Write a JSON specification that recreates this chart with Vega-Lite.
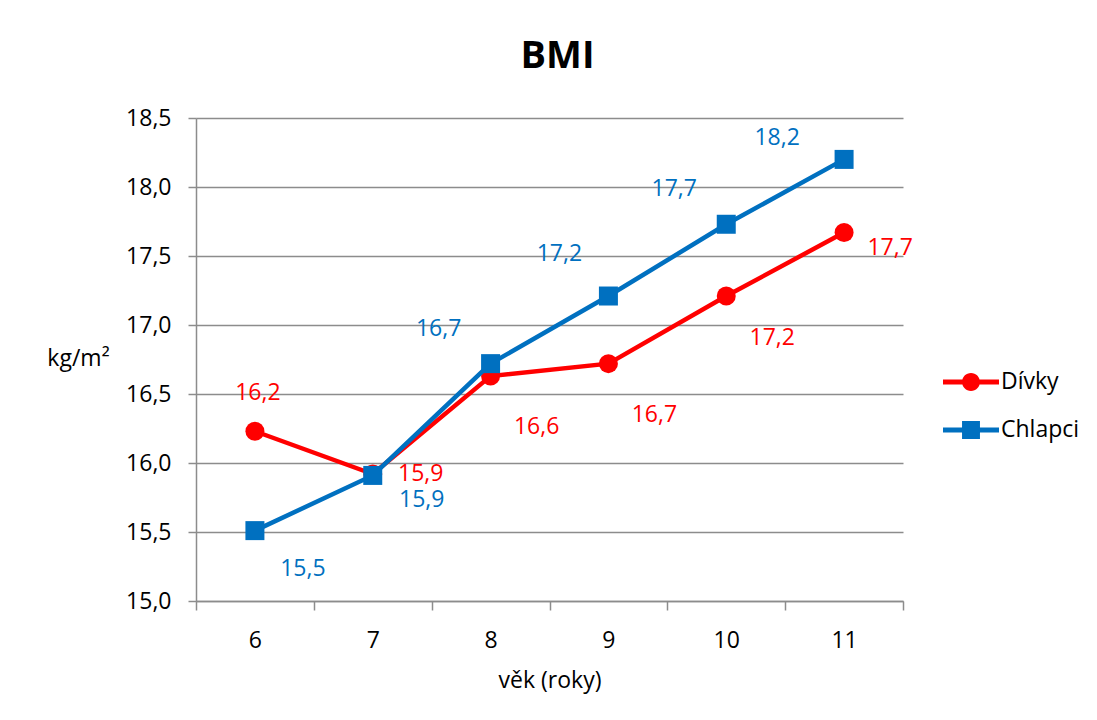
{
  "$schema": "https://vega.github.io/schema/vega-lite/v6.json",
  "width": 707,
  "height": 483,
  "autosize": {"type": "none"},
  "padding": {"left": 196, "top": 118, "right": 194, "bottom": 119},
  "background": "white",
  "title": {
    "text": "BMI",
    "frame": "group",
    "anchor": "middle",
    "dx": 8,
    "offset": 31,
    "fontSize": 38,
    "fontWeight": "bold",
    "font": "Open Sans",
    "color": "#000000"
  },
  "config": {
    "locale": {
      "number": {"decimal": ",", "thousands": " ", "grouping": [3], "currency": ["", " Kč"]}
    },
    "font": "Open Sans",
    "view": {"stroke": null},
    "axis": {
      "labelFont": "Open Sans",
      "labelFontSize": 23,
      "labelColor": "#000000",
      "titleFont": "Open Sans",
      "titleFontSize": 23,
      "titleFontWeight": "normal",
      "titleColor": "#000000",
      "domainColor": "#8C8C8C",
      "domainWidth": 1.5,
      "tickColor": "#8C8C8C",
      "tickWidth": 1.5,
      "gridColor": "#8C8C8C",
      "gridWidth": 1.4
    }
  },
  "data": {
    "values": [
      {"vek": 6, "pohlavi": "Dívky", "BMI": 16.23},
      {"vek": 7, "pohlavi": "Dívky", "BMI": 15.92},
      {"vek": 8, "pohlavi": "Dívky", "BMI": 16.63},
      {"vek": 9, "pohlavi": "Dívky", "BMI": 16.72},
      {"vek": 10, "pohlavi": "Dívky", "BMI": 17.21},
      {"vek": 11, "pohlavi": "Dívky", "BMI": 17.67},
      {"vek": 6, "pohlavi": "Chlapci", "BMI": 15.51},
      {"vek": 7, "pohlavi": "Chlapci", "BMI": 15.91},
      {"vek": 8, "pohlavi": "Chlapci", "BMI": 16.72},
      {"vek": 9, "pohlavi": "Chlapci", "BMI": 17.21},
      {"vek": 10, "pohlavi": "Chlapci", "BMI": 17.73},
      {"vek": 11, "pohlavi": "Chlapci", "BMI": 18.2}
    ]
  },
  "encoding": {
    "x": {
      "field": "vek",
      "type": "ordinal",
      "scale": {"type": "band", "paddingInner": 0, "paddingOuter": 0},
      "axis": {
        "title": "věk (roky)",
        "labelAngle": 0,
        "tickBand": "extent",
        "tickSize": 9,
        "labelPadding": 19,
        "titlePadding": 17,
        "grid": false
      }
    },
    "y": {
      "field": "BMI",
      "type": "quantitative",
      "scale": {"domain": [15, 18.5], "nice": false, "zero": false},
      "axis": {
        "values": [15, 15.5, 16, 16.5, 17, 17.5, 18, 18.5],
        "format": ".1f",
        "title": "kg/m²",
        "titleAngle": 0,
        "titleX": -118,
        "titleY": 240,
        "titleAlign": "center",
        "titleBaseline": "middle",
        "tickSize": 8,
        "labelPadding": 17,
        "grid": true
      }
    },
    "color": {
      "field": "pohlavi",
      "type": "nominal",
      "scale": {"domain": ["Dívky", "Chlapci"], "range": ["#FF0000", "#0070C0"]},
      "legend": {
        "orient": "none",
        "legendX": 747,
        "legendY": 250,
        "title": null,
        "labelFont": "Open Sans",
        "labelFontSize": 23,
        "labelColor": "#000000",
        "symbolSize": 784,
        "labelOffset": 30,
        "rowPadding": 22,
        "encoding": {
          "symbols": {
            "shape": {"value": {"expr": "datum.value === 'Dívky' ? 'M-1,-0.18H3V0.18H-1Z M1.64,0A0.64,0.64 0 1,1 0.36,0A0.64,0.64 0 1,1 1.64,0Z' : 'M-1,-0.18H3V0.18H-1Z M0.36,-0.64H1.64V0.64H0.36Z'"}},
            "fill": {"value": {"expr": "scale('color', datum.value)"}},
            "stroke": {"value": "transparent"},
            "strokeWidth": {"value": 0},
            "opacity": {"value": 1}
          }
        }
      }
    }
  },
  "layer": [
    {
      "transform": [{"filter": "datum.pohlavi === 'Dívky'"}],
      "mark": {"type": "line", "strokeWidth": 4.5}
    },
    {
      "transform": [{"filter": "datum.pohlavi === 'Dívky'"}],
      "mark": {"type": "point", "shape": "circle", "filled": true, "opacity": 1, "size": 361}
    },
    {
      "transform": [{"filter": "datum.pohlavi === 'Chlapci'"}],
      "mark": {"type": "line", "strokeWidth": 4.5}
    },
    {
      "transform": [{"filter": "datum.pohlavi === 'Chlapci'"}],
      "mark": {"type": "point", "shape": "square", "filled": true, "opacity": 1, "size": 361}
    },
    {
      "transform": [{"filter": "datum.pohlavi === 'Dívky' && datum.vek === 6"}],
      "mark": {"type": "text", "dx": 3, "dy": -38, "fontSize": 23},
      "encoding": {"text": {"field": "BMI", "type": "quantitative", "format": ".1f"}}
    },
    {
      "transform": [{"filter": "datum.pohlavi === 'Dívky' && datum.vek === 7"}],
      "mark": {"type": "text", "dx": 48, "dy": 0, "fontSize": 23},
      "encoding": {"text": {"field": "BMI", "type": "quantitative", "format": ".1f"}}
    },
    {
      "transform": [{"filter": "datum.pohlavi === 'Dívky' && (datum.vek === 8 || datum.vek === 9)"}],
      "mark": {"type": "text", "dx": 46, "dy": 51, "fontSize": 23},
      "encoding": {"text": {"field": "BMI", "type": "quantitative", "format": ".1f"}}
    },
    {
      "transform": [{"filter": "datum.pohlavi === 'Dívky' && datum.vek === 10"}],
      "mark": {"type": "text", "dx": 46, "dy": 42, "fontSize": 23},
      "encoding": {"text": {"field": "BMI", "type": "quantitative", "format": ".1f"}}
    },
    {
      "transform": [{"filter": "datum.pohlavi === 'Dívky' && datum.vek === 11"}],
      "mark": {"type": "text", "dx": 46, "dy": 15, "fontSize": 23},
      "encoding": {"text": {"field": "BMI", "type": "quantitative", "format": ".1f"}}
    },
    {
      "transform": [{"filter": "datum.pohlavi === 'Chlapci' && datum.vek === 6"}],
      "mark": {"type": "text", "dx": 48, "dy": 38, "fontSize": 23},
      "encoding": {"text": {"field": "BMI", "type": "quantitative", "format": ".1f"}}
    },
    {
      "transform": [{"filter": "datum.pohlavi === 'Chlapci' && datum.vek === 7"}],
      "mark": {"type": "text", "dx": 49, "dy": 25, "fontSize": 23},
      "encoding": {"text": {"field": "BMI", "type": "quantitative", "format": ".1f"}}
    },
    {
      "transform": [{"filter": "datum.pohlavi === 'Chlapci' && (datum.vek === 8 || datum.vek === 10)"}],
      "mark": {"type": "text", "dx": -52, "dy": -35, "fontSize": 23},
      "encoding": {"text": {"field": "BMI", "type": "quantitative", "format": ".1f"}}
    },
    {
      "transform": [{"filter": "datum.pohlavi === 'Chlapci' && datum.vek === 9"}],
      "mark": {"type": "text", "dx": -49, "dy": -42, "fontSize": 23},
      "encoding": {"text": {"field": "BMI", "type": "quantitative", "format": ".1f"}}
    },
    {
      "transform": [{"filter": "datum.pohlavi === 'Chlapci' && datum.vek === 11"}],
      "mark": {"type": "text", "dx": -67, "dy": -21, "fontSize": 23},
      "encoding": {"text": {"field": "BMI", "type": "quantitative", "format": ".1f"}}
    }
  ]
}
